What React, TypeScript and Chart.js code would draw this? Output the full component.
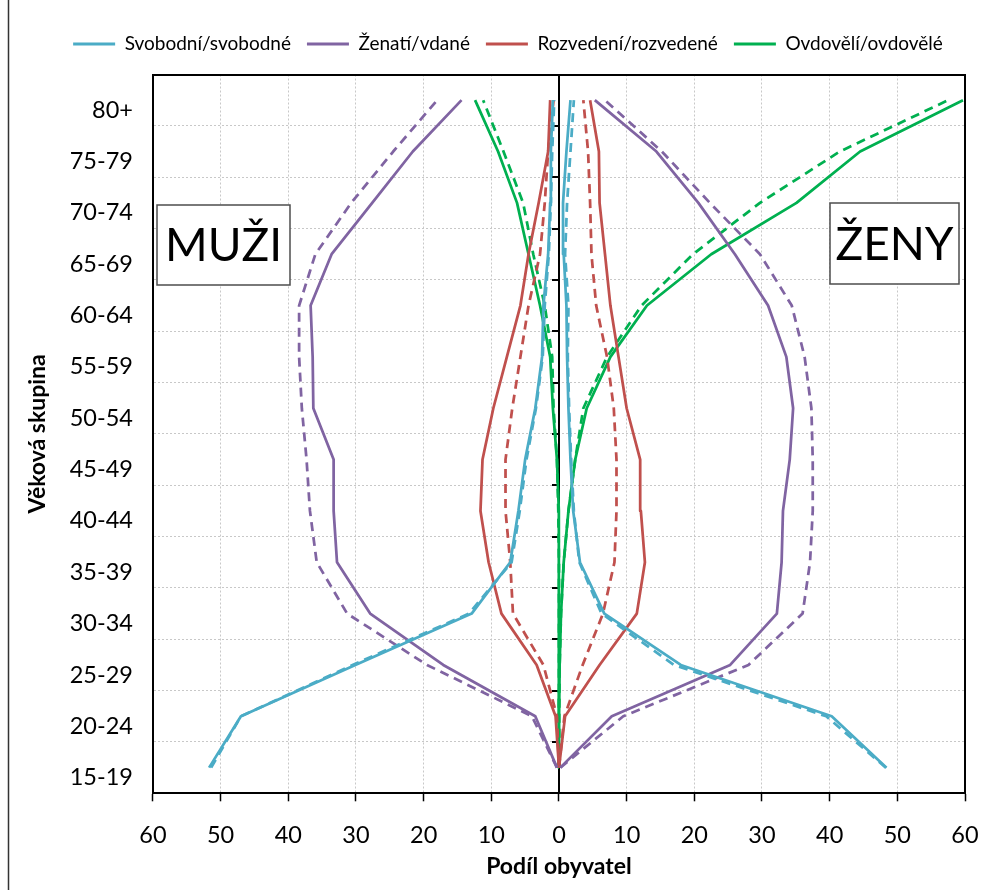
import React, { useEffect, useRef } from 'react';
import { Chart, registerables } from 'chart.js';

Chart.register(...registerables);

// Age groups, bottom to top
const ageGroups = ['15-19', '20-24', '25-29', '30-34', '35-39', '40-44', '45-49', '50-54', '55-59', '60-64', '65-69', '70-74', '75-79', '80+'];

// Series names (legend)
const seriesNames = ['Svobodní/svobodné', 'Ženatí/vdané', 'Rozvedení/rozvedené', 'Ovdovělí/ovdovělé'];
const seriesColors = ['#4BACC6', '#8064A2', '#C0504D', '#00B050'];

// Men (plotted to the left, negative values) – solid and dashed line
const menSingleSolid = [-51.7, -47.0, -30.1, -12.9, -7.2, -6.0, -5.0, -3.5, -2.5, -2.3, -1.6, -1.3, -1.2, -0.9];
const menSingleDashed = [-51.4, -47.0, -30.5, -13.3, -7.0, -5.8, -4.8, -3.4, -2.4, -2.1, -1.5, -1.2, -1.0, -0.7];
const menMarriedSolid = [-0.3, -3.5, -17.1, -27.9, -32.8, -33.3, -33.3, -36.3, -36.4, -36.7, -33.6, -27.6, -21.6, -14.4];
const menMarriedDashed = [-0.3, -4.0, -19.5, -31.3, -35.8, -36.8, -37.3, -38.0, -38.4, -38.4, -36.0, -30.7, -24.5, -18.0];
const menDivorcedSolid = [0, -0.5, -3.3, -8.5, -10.4, -11.6, -11.3, -9.7, -7.7, -5.7, -4.5, -3.0, -1.6, -1.3];
const menDivorcedDashed = [0, -0.3, -2.3, -6.8, -7.2, -7.9, -7.9, -6.9, -5.7, -4.5, -2.8, -2.1, -1.6, -0.8];
const menWidowedSolid = [0, 0, 0, 0, 0, -0.1, -0.3, -0.9, -1.3, -2.8, -4.5, -6.2, -9.0, -12.4];
const menWidowedDashed = [0, 0, 0, 0, 0, -0.1, -0.3, -0.8, -1.0, -2.1, -3.8, -5.3, -8.2, -11.2];

// Women (plotted to the right, positive values)
const womenSingleSolid = [48.4, 40.3, 18.0, 6.7, 3.1, 2.1, 1.7, 1.4, 1.2, 1.1, 0.7, 0.6, 1.1, 1.7];
const womenSingleDashed = [48.3, 39.5, 17.0, 6.3, 3.0, 2.2, 1.8, 1.5, 1.3, 1.4, 0.9, 1.2, 1.7, 2.2];
const womenMarriedSolid = [0.2, 7.8, 25.3, 32.2, 32.9, 33.1, 34.1, 34.6, 33.6, 30.9, 26.0, 20.6, 14.4, 5.3];
const womenMarriedDashed = [0.2, 9.5, 28.0, 36.0, 37.1, 37.5, 37.5, 37.3, 36.3, 34.4, 29.7, 22.3, 15.2, 6.8];
const womenDivorcedSolid = [0, 0.9, 6.0, 11.5, 12.7, 12.1, 12.0, 10.0, 8.8, 7.6, 6.8, 6.0, 5.9, 4.6];
const womenDivorcedDashed = [0, 0.8, 3.5, 6.5, 8.2, 8.5, 8.5, 8.1, 7.1, 5.5, 4.8, 4.6, 4.3, 3.6];
const womenWidowedSolid = [0, 0, 0.1, 0.3, 0.7, 1.4, 2.4, 4.1, 7.6, 13.0, 22.5, 35.1, 44.5, 59.7];
const womenWidowedDashed = [0, 0, 0.1, 0.3, 0.7, 1.4, 2.4, 3.6, 7.1, 12.2, 19.8, 29.7, 41.5, 57.5];

// X axis tick values
const xMin = -60;
const xMax = 60;
const xStep = 10;

const seriesData = [
  [menSingleSolid, menSingleDashed, womenSingleSolid, womenSingleDashed],
  [menMarriedSolid, menMarriedDashed, womenMarriedSolid, womenMarriedDashed],
  [menDivorcedSolid, menDivorcedDashed, womenDivorcedSolid, womenDivorcedDashed],
  [menWidowedSolid, menWidowedDashed, womenWidowedSolid, womenWidowedDashed],
];

const FONT = "Lato, 'Open Sans', 'DejaVu Sans', sans-serif";

const centerAxisPlugin = {
  id: 'centerAxis',
  beforeDatasetsDraw(chart: any) {
    const { ctx, chartArea, scales } = chart;
    const x = scales.x;
    const y = scales.y;
    const cx = Math.round(x.getPixelForValue(0));
    ctx.save();
    ctx.strokeStyle = '#000';
    ctx.lineWidth = 2;
    ctx.beginPath();
    ctx.moveTo(cx, chartArea.top);
    ctx.lineTo(cx, chartArea.bottom);
    ctx.stroke();
    for (let i = 0; i < ageGroups.length - 1; i++) {
      const yy = Math.round((y.getPixelForValue(i) + y.getPixelForValue(i + 1)) / 2);
      ctx.beginPath();
      ctx.moveTo(cx - 7, yy);
      ctx.lineTo(cx, yy);
      ctx.stroke();
    }
    ctx.restore();
  },
};

const textBoxesPlugin = {
  id: 'textBoxes',
  afterDraw(chart: any) {
    const { ctx } = chart;
    const boxes = [
      { text: 'MUŽI', x: 157, y: 205, w: 133, h: 80 },
      { text: 'ŽENY', x: 830, y: 203, w: 129, h: 81 },
    ];
    const size = 46;
    ctx.save();
    for (const b of boxes) {
      ctx.fillStyle = '#fff';
      ctx.fillRect(b.x, b.y, b.w, b.h);
      ctx.strokeStyle = '#4d4d4d';
      ctx.lineWidth = 1.5;
      ctx.strokeRect(b.x, b.y, b.w, b.h);
      ctx.fillStyle = '#000';
      ctx.font = `${size}px ${FONT}`;
      ctx.textAlign = 'center';
      ctx.textBaseline = 'alphabetic';
      ctx.fillText(b.text, b.x + b.w / 2, b.y + b.h / 2 + size * 0.7165 / 2);
    }
    // outer chart frame (left edge visible)
    ctx.strokeStyle = '#333';
    ctx.lineWidth = 1.5;
    ctx.beginPath();
    ctx.moveTo(8.5, 0);
    ctx.lineTo(8.5, chart.height);
    ctx.stroke();
    ctx.restore();
  },
};

export default function App() {
  const canvasRef = useRef<HTMLCanvasElement | null>(null);

  useEffect(() => {
    if (!canvasRef.current) return;
    const datasets: any[] = [];
    seriesData.forEach((group, si) => {
      group.forEach((values, gi) => {
        datasets.push({
          label: seriesNames[si],
          data: values,
          borderColor: seriesColors[si],
          backgroundColor: seriesColors[si],
          borderWidth: 2.75,
          borderDash: gi % 2 === 1 ? [9, 6] : [],
          borderJoinStyle: 'round',
          pointRadius: 0,
          pointHoverRadius: 0,
          tension: 0,
          fill: false,
          xAxisID: 'x',
          yAxisID: 'y',
        });
      });
    });

    const chart = new Chart(canvasRef.current, {
      type: 'line',
      data: { labels: ageGroups, datasets },
      plugins: [centerAxisPlugin, textBoxesPlugin],
      options: {
        indexAxis: 'y',
        animation: false,
        responsive: false,
        devicePixelRatio: 1,
        layout: { padding: { left: 51, right: 27, top: 18.5, bottom: 10 } },
        plugins: {
          tooltip: { enabled: false },
          legend: {
            position: 'top',
            labels: {
              font: { family: FONT, size: 19 },
              color: '#262626',
              boxWidth: 42,
              boxHeight: 3,
              padding: 16,
              generateLabels: () =>
                seriesNames.map((name, i) => ({
                  text: name,
                  fillStyle: seriesColors[i],
                  strokeStyle: seriesColors[i],
                  lineWidth: 0,
                  hidden: false,
                  datasetIndex: i * 4,
                })),
            },
          },
        },
        scales: {
          x: {
            type: 'linear',
            position: 'bottom',
            min: xMin,
            max: xMax,
            ticks: {
              stepSize: xStep,
              font: { family: FONT, size: 23.5, lineHeight: 1.787 },
              color: '#000',
              padding: 13,
              maxRotation: 0,
              callback: (v: any) => String(Math.abs(Number(v))),
            },
            grid: {
              color: '#c8c8c8',
              lineWidth: 1,
              drawTicks: true,
              tickLength: 8,
              tickColor: '#000',
              tickWidth: 1.5,
              tickBorderDash: [],
            },
            border: { display: true, color: '#000', width: 2, dash: [2, 2] },
            title: {
              display: true,
              text: 'Podíl obyvatel',
              font: { family: FONT, size: 23, weight: 'bold' },
              color: '#000',
              padding: { top: -16.9, bottom: 0 },
            },
          },
          x2: {
            type: 'linear',
            position: 'top',
            grid: { display: false, drawTicks: false },
            ticks: { display: false },
            border: { display: true, color: '#000', width: 2 },
            title: {
              display: true,
              text: '',
              font: { size: 10, lineHeight: 1 },
              padding: { top: 1, bottom: 0 },
            },
          },
          y: {
            type: 'category',
            position: 'left',
            reverse: true,
            offset: true,
            ticks: {
              font: { family: FONT, size: 23.5 },
              color: '#000',
              padding: 20,
              labelOffset: 10,
              autoSkip: false,
            },
            grid: {
              offset: true,
              color: '#c8c8c8',
              lineWidth: 1,
              drawTicks: false,
            },
            border: { display: true, color: '#000', width: 2, dash: [2, 2] },
            title: {
              display: true,
              text: 'Věková skupina',
              font: { family: FONT, size: 23, weight: 'bold' },
              color: '#000',
              padding: { top: -26.8, bottom: -2.1 },
            },
          },
          y2: {
            type: 'linear',
            position: 'right',
            grid: { display: false, drawTicks: false },
            ticks: { display: false },
            border: { display: true, color: '#000', width: 2 },
          },
        },
      } as any,
    });
    return () => chart.destroy();
  }, []);

  return (
    <div style={{ position: 'absolute', left: 0, top: 0, width: 992, height: 890, background: '#fff' }}>
      <canvas ref={canvasRef} width={992} height={890} style={{ width: 992, height: 890 }} />
    </div>
  );
}
